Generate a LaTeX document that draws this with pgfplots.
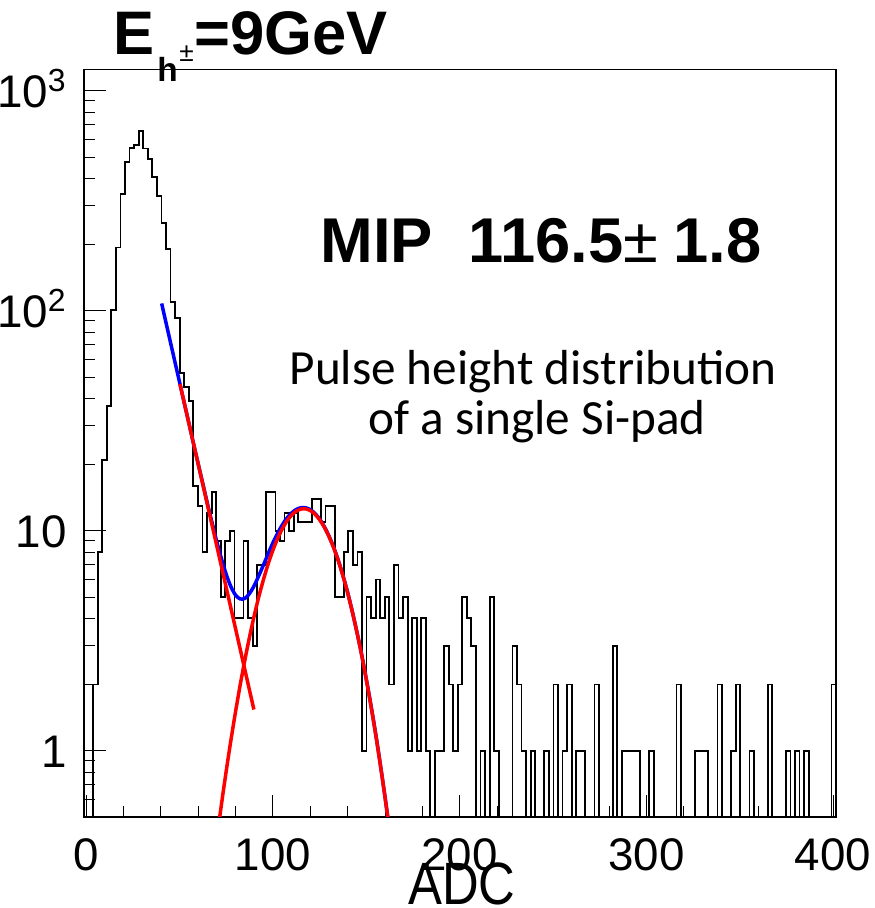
\documentclass[border=0pt]{standalone}
\usepackage{pgfplots}
\pgfplotsset{compat=1.18}
\usepackage{pgfplotstable}
\usepackage{fontspec}
\setmainfont{Liberation Sans}
\newfontfamily\calibri{Carlito}

% histogram: left bin edge, counts (0 counts written as 0.1, below ymin)
\pgfplotstableread{
x y
-1.20 0.1
1.24 0.1
3.68 2
6.12 8
8.56 21
11.01 37
13.45 101
15.89 194
18.33 340
20.77 474
23.21 551
25.65 567
28.09 658
30.54 547
32.98 490
35.42 405
37.86 333
40.30 250
42.74 191
45.18 110
47.62 93
50.07 52
52.51 45
54.95 39
57.39 16
59.83 13
62.27 8
64.71 12
67.15 15
69.59 9
72.04 5
74.48 9
76.92 10
79.36 4
81.80 4
84.24 9
86.68 4
89.12 3
91.57 7
94.01 7
96.45 15
98.89 15
101.33 10
103.77 9
106.21 12
108.65 10
111.10 12
113.54 11
115.98 11
118.42 11
120.86 14
123.30 14
125.74 11
128.18 13
130.62 13
133.07 5
135.51 5
137.95 8
140.39 10
142.83 7
145.27 8
147.71 1
150.15 5
152.60 4
155.04 6
157.48 4
159.92 5
162.36 2
164.80 7
167.24 4
169.68 5
172.13 1
174.57 4
177.01 1
179.45 4
181.89 1
184.33 0.1
186.77 1
189.21 1
191.65 3
194.10 2
196.54 1
198.98 2
201.42 5
203.86 4
206.30 3
208.74 0.1
211.18 1
213.63 0.1
216.07 5
218.51 1
220.95 0.1
223.39 0.1
225.83 0.1
228.27 3
230.71 2
233.16 1
235.60 0.1
238.04 1
240.48 0.1
242.92 0.1
245.36 1
247.80 0.1
250.24 2
252.68 0.1
255.13 1
257.57 2
260.01 0.1
262.45 1
264.89 1
267.33 0.1
269.77 0.1
272.21 2
274.66 0.1
277.10 0.1
279.54 0.1
281.98 3
284.42 0.1
286.86 1
289.30 1
291.74 1
294.19 1
296.63 0.1
299.07 0.1
301.51 1
303.95 0.1
306.39 0.1
308.83 0.1
311.27 0.1
313.71 0.1
316.16 2
318.60 0.1
321.04 0.1
323.48 0.1
325.92 1
328.36 1
330.80 1
333.24 0.1
335.69 0.1
338.13 2
340.57 0.1
343.01 0.1
345.45 1
347.89 2
350.33 0.1
352.77 0.1
355.22 1
357.66 0.1
360.10 0.1
362.54 0.1
364.98 2
367.42 0.1
369.86 0.1
372.30 0.1
374.74 1
377.19 0.1
379.63 1
382.07 0.1
384.51 1
386.95 0.1
389.39 0.1
391.83 0.1
394.27 0.1
396.72 0.1
399.16 2
401.60 2
}\hist

% total fit (blue)
\pgfplotstableread{
x y
40.4 108
42.5 90.0
45 72.6
47.5 58.6
50 47.3
52.5 38.1
55 30.8
57.5 24.8
60 20.1
62.5 16.3
65 13.2
67.5 10.8
70 8.88
72.5 7.42
75 6.33
77.5 5.57
80 5.10
82.5 4.90
85 4.93
87.5 5.19
90 5.64
92.5 6.27
95 7.02
97.5 7.89
100 8.82
102.5 9.74
105 10.63
107.5 11.42
110 12.05
112.5 12.50
115 12.73
117.5 12.72
120 12.48
122.5 11.99
125 11.31
127.5 10.45
130 9.47
132.5 8.42
135 7.34
137.5 6.26
140 5.25
142.5 4.30
145 3.46
147.5 2.74
150 2.12
152.5 1.61
155 1.20
157.5 0.87
160 0.62
162.5 0.43
}\fittot

% exponential component (red)
\pgfplotstableread{
x y
50.2 46.5
70 8.48
89.8 1.54
}\fitexp

% gaussian component (red)
\pgfplotstableread{
x y
70 0.402
72.5 0.577
75 0.811
77.5 1.118
80 1.509
82.5 2.00
85 2.594
87.5 3.30
90 4.12
92.5 5.04
95 6.03
97.5 7.09
100 8.17
102.5 9.22
105 10.21
107.5 11.08
110 11.78
112.5 12.28
115 12.55
116.5 12.6
117.5 12.58
120 12.36
122.5 11.90
125 11.23
127.5 10.39
130 9.42
132.5 8.38
135 7.31
137.5 6.24
140 5.23
142.5 4.29
145 3.45
147.5 2.73
150 2.11
152.5 1.60
155 1.19
157.5 0.866
160 0.619
162.5 0.433
}\fitgaus

\begin{document}
\begin{tikzpicture}
\begin{axis}[
  at={(0,0)}, anchor=south west,
  scale only axis, width=15.04cm, height=14.95cm,
  xmin=-1.2, xmax=401.6,
  ymode=log, ymin=0.5, ymax=1250,
  xtick={0,100,200,300,400}, minor x tick num=4,
  xticklabels={0,100,200,300,400},
  ytick={1,10,100,1000},
  yticklabels={1,10,10\textsuperscript{2},10\textsuperscript{3}},
  minor ytick={0.6,0.7,0.8,0.9,2,3,4,5,6,7,8,9,20,30,40,50,60,70,80,90,200,300,400,500,600,700,800,900},
  tick align=inside, xtick pos=bottom, ytick pos=left,
  major tick length=0.44cm, minor tick length=0.22cm,
  every tick/.style={black, line width=0.5pt},
  axis line style={line width=0.9pt},
  tick label style={font=\fontsize{26}{26}\selectfont},
  xticklabel style={anchor=north, inner sep=0pt, yshift=-0.42cm},
  yticklabel style={anchor=base east, inner sep=0pt, xshift=-0.34cm, yshift=-0.33cm},
]
\addplot[const plot mark left, black, line width=0.36mm] table {\hist};
\addplot[blue, line width=0.7mm, smooth] table {\fittot};
\addplot[red, line width=0.7mm] table {\fitexp};
\addplot[red, line width=0.7mm, smooth] table {\fitgaus};
\end{axis}

% title
\node[anchor=base west, inner sep=0pt] at (0.59,15.24) {\fontsize{35}{35}\selectfont\bfseries E};
\node[anchor=base west, inner sep=0pt] at (1.46,14.70) {\fontsize{19}{19}\selectfont\bfseries h};
\node[anchor=base west, inner sep=0pt] at (1.90,15.10) {\fontsize{15}{15}\selectfont ±};
\node[anchor=base west, inner sep=0pt] at (2.20,15.24) {\fontsize{35}{35}\selectfont\bfseries =9GeV};

% fit result
\node[anchor=base west, inner sep=0pt] at (4.72,11.08)
  {\fontsize{36}{36}\selectfont{\bfseries MIP\hspace{0.72cm}116.5}±\hspace{0.3cm}{\bfseries 1.8}};

% note
\node[anchor=base, inner sep=0pt] at (8.98,8.64) {\calibri\fontsize{28}{28}\selectfont Pulse height distribution};
\node[anchor=base, inner sep=0pt] at (9.06,7.64) {\calibri\fontsize{28}{28}\selectfont of a single Si-pad};

% axis title
\node[anchor=base, inner sep=0pt, xscale=0.85] at (7.56,-1.76) {\fontsize{34}{34}\selectfont ADC};

\pgfresetboundingbox
\useasboundingbox (-1.68,-1.82) rectangle (15.82,16.34);
\end{tikzpicture}
\end{document}
